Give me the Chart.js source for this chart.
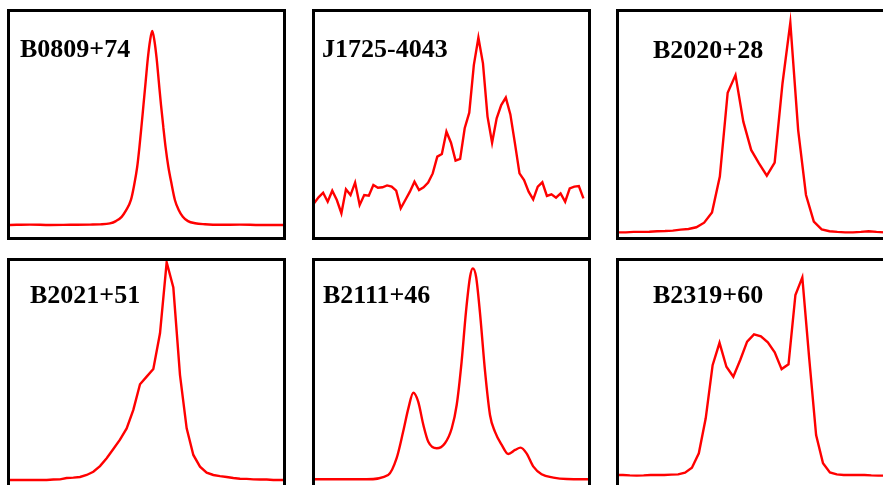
<!DOCTYPE html>
<html>
<head>
<meta charset="utf-8">
<script src="https://cdn.jsdelivr.net/npm/chart.js@4.4.1/dist/chart.umd.min.js"></script>
<style>
  html, body { margin: 0; padding: 0; background: #fff; overflow: hidden; }
  body { width: 883px; height: 485px; position: relative; }
  .panel { position: absolute; width: 273px; height: 225px; border: 3px solid #000; background: #fff; }
  .panel canvas { display: block; }
</style>
</head>
<body>
<div class="panel" style="left:7px;top:9px"><canvas id="p0" width="273" height="225"></canvas></div>
<div class="panel" style="left:312px;top:9px"><canvas id="p1" width="273" height="225"></canvas></div>
<div class="panel" style="left:616px;top:9px"><canvas id="p2" width="273" height="225"></canvas></div>
<div class="panel" style="left:7px;top:258px"><canvas id="p3" width="273" height="225"></canvas></div>
<div class="panel" style="left:312px;top:258px"><canvas id="p4" width="273" height="225"></canvas></div>
<div class="panel" style="left:616px;top:258px"><canvas id="p5" width="273" height="225"></canvas></div>
<script>
// pulsar names, one per panel
const names = ['B0809+74', 'J1725-4043', 'B2020+28', 'B2021+51', 'B2111+46', 'B2319+60'];

// B0809+74: finely sampled profile, phase 0..1 across the window
const b0809Phase = [0, 0.073, 0.147, 0.220, 0.293, 0.330, 0.366, 0.388, 0.409, 0.425, 0.443, 0.454,
  0.466, 0.474, 0.481, 0.489, 0.497, 0.505, 0.513, 0.521, 0.529, 0.537, 0.545, 0.553, 0.562,
  0.570, 0.580, 0.592, 0.604, 0.617, 0.633, 0.652, 0.678, 0.714, 0.769, 0.842, 0.916, 1.0];
const b0809Flux = [0, 0.002, 0, 0.001, 0.002, 0.003, 0.008, 0.02, 0.042, 0.075, 0.129, 0.20,
  0.30, 0.40, 0.50, 0.62, 0.74, 0.86, 0.95, 1.0, 0.95, 0.86, 0.74, 0.62, 0.50,
  0.40, 0.30, 0.21, 0.129, 0.08, 0.043, 0.02, 0.009, 0.004, 0.001, 0.002, 0, 0];

// J1725-4043: 60 bins, noisy
const j1725Flux = [-0.064, -0.026, 0.004, -0.054, 0.017, -0.043, -0.128, 0.026, -0.011, 0.069,
  -0.075, -0.011, -0.015, 0.054, 0.036, 0.039, 0.051, 0.043, 0.017, -0.096,
  -0.043, 0.011, 0.075, 0.021, 0.039, 0.069, 0.128, 0.236, 0.253, 0.396,
  0.325, 0.210, 0.221, 0.418, 0.518, 0.824, 1.0, 0.835, 0.493, 0.325,
  0.482, 0.567, 0.615, 0.507, 0.321, 0.128, 0.086, 0.011, -0.039, 0.043,
  0.071, -0.017, -0.006, -0.028, 0.0, -0.054, 0.032, 0.043, 0.047, -0.032];

// B2020+28: 36 bins
const b2020Flux = [0, 0, 0.002, 0.002, 0.003, 0.005, 0.006, 0.008, 0.013, 0.016, 0.024, 0.046,
  0.095, 0.266, 0.666, 0.750, 0.528, 0.393, 0.329, 0.270, 0.332, 0.710, 1.0, 0.488,
  0.178, 0.051, 0.014, 0.005, 0.002, 0, 0, 0.002, 0.005, 0.002, 0, 0];

// B2021+51: 43 bins
const b2021Flux = [0, 0, 0, 0, 0, 0, 0, 0.002, 0.003, 0.009, 0.011, 0.014, 0.023, 0.038,
  0.064, 0.100, 0.142, 0.185, 0.237, 0.322, 0.440, 0.475, 0.510, 0.674, 1.0, 0.884,
  0.482, 0.237, 0.115, 0.061, 0.034, 0.023, 0.018, 0.014, 0.009, 0.006, 0.005, 0.003,
  0.002, 0.002, 0, 0, 0];

// B2111+46: finely sampled, phase 0..1
const b2111Phase = [0, 0.189, 0.268, 0.299, 0.323, 0.342, 0.360, 0.378, 0.397, 0.415, 0.446,
  0.476, 0.501, 0.519, 0.537, 0.553, 0.568, 0.578, 0.590, 0.604, 0.623, 0.641, 0.659,
  0.684, 0.708, 0.733, 0.753, 0.775, 0.800, 0.830, 0.873, 0.922, 1.0];
const b2111Flux = [0, 0, 0.02, 0.10, 0.226, 0.336, 0.41, 0.368, 0.257, 0.178, 0.147,
  0.171, 0.242, 0.352, 0.557, 0.794, 0.96, 1.0, 0.96, 0.794, 0.51, 0.305, 0.226,
  0.163, 0.12, 0.139, 0.15, 0.123, 0.06, 0.024, 0.008, 0.001, 0];

// B2319+60: 41 bins
const b2319Flux = [0, 0, -0.002, -0.003, -0.002, 0, 0, 0, 0.002, 0.003, 0.012, 0.037,
  0.110, 0.287, 0.556, 0.669, 0.548, 0.497, 0.582, 0.675, 0.712, 0.702, 0.671, 0.621,
  0.536, 0.560, 0.911, 1.0, 0.590, 0.202, 0.059, 0.013, 0.003, 0, 0, 0, 0, -0.002,
  -0.003, -0.003, -0.003];

function toPoints(flux, xs) {
  return flux.map((v, i) => ({ x: xs ? xs[i] : i, y: v }));
}

// per-panel window and label placement
const panels = [
  { flux: b0809Flux, xs: b0809Phase, x: [0, 1], y: [-0.062, 1.098], smooth: true, lx: 10, ly: 45 },
  { flux: j1725Flux, xs: null, x: [0.22, 60.0], y: [-0.2805, 1.165], smooth: false, lx: 7, ly: 45 },
  { flux: b2020Flux, xs: null, x: [0.128, 34.98], y: [-0.0223, 1.051], smooth: false, lx: 34, ly: 45.5 },
  { flux: b2021Flux, xs: null, x: [0.5, 41.45], y: [-0.0276, 1.006], smooth: false, lx: 20, ly: 41.5 },
  { flux: b2111Flux, xs: b2111Phase, x: [0, 1], y: [-0.032, 1.035], smooth: true, lx: 8, ly: 42 },
  { flux: b2319Flux, xs: null, x: [0.43, 40.0], y: [-0.0557, 1.083], smooth: false, lx: 34, ly: 42 }
];

const nameLabel = {
  id: 'nameLabel',
  afterDraw(chart, args, opts) {
    const c = chart.ctx;
    c.save();
    c.font = 'bold 26px "Liberation Serif", "Times New Roman", serif';
    c.fillStyle = '#000';
    c.textBaseline = 'alphabetic';
    c.fillText(opts.text, opts.x, opts.y);
    c.restore();
  }
};

panels.forEach((p, i) => {
  new Chart(document.getElementById('p' + i), {
    type: 'line',
    data: {
      datasets: [{
        data: toPoints(p.flux, p.xs),
        borderColor: '#ff0000',
        borderWidth: 2.4,
        pointRadius: 0,
        fill: false,
        tension: p.smooth ? 0.4 : 0,
        cubicInterpolationMode: p.smooth ? 'monotone' : 'default'
      }]
    },
    options: {
      responsive: false,
      animation: false,
      devicePixelRatio: 1,
      layout: { padding: 0 },
      scales: {
        x: { type: 'linear', display: false, min: p.x[0], max: p.x[1] },
        y: { type: 'linear', display: false, min: p.y[0], max: p.y[1] }
      },
      plugins: {
        legend: { display: false },
        tooltip: { enabled: false },
        nameLabel: { text: names[i], x: p.lx, y: p.ly }
      }
    },
    plugins: [nameLabel]
  });
});
</script>
</body>
</html>
